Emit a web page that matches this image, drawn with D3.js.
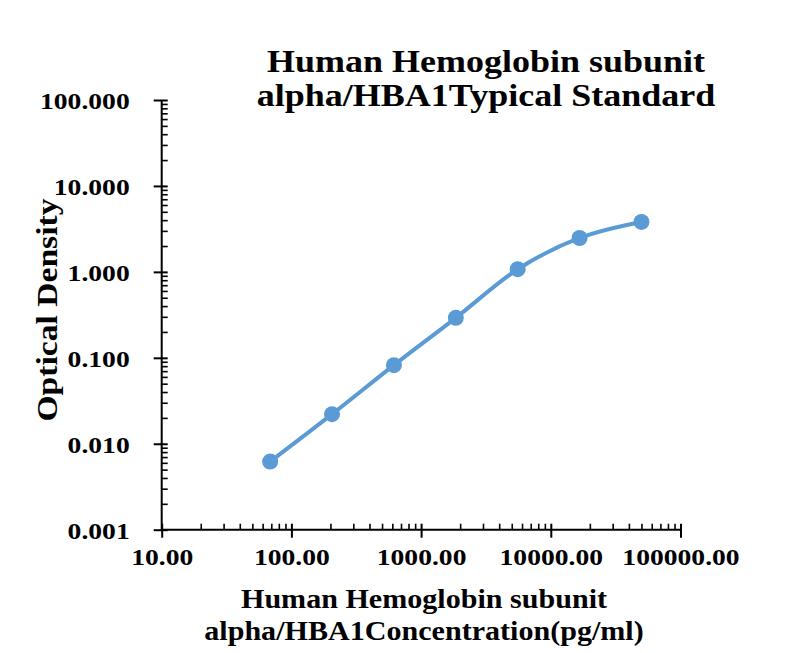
<!DOCTYPE html>
<html><head><meta charset="utf-8">
<script src="https://cdn.jsdelivr.net/npm/d3@7"></script>
<style>body{margin:0;background:#fff}text{font-family:"Liberation Serif","Times New Roman",serif;font-weight:bold;fill:#000}</style>
</head><body>
<svg id="c" width="800" height="653"></svg>
<script>
const concentrations = [68.59, 205.76, 617.28, 1851.85, 5555.56, 16666.67, 50000];
const odValues = [0.0062, 0.0221, 0.0822, 0.292, 1.074, 2.48, 3.81];
const xTickValues = [10, 100, 1000, 10000, 100000];
const xTickLabels = ["10.00", "100.00", "1000.00", "10000.00", "100000.00"];
const yTickValues = [0.001, 0.01, 0.1, 1, 10, 100];
const yTickLabels = ["0.001", "0.010", "0.100", "1.000", "10.000", "100.000"];
const titleLines = ["Human Hemoglobin subunit", "alpha/HBA1Typical Standard"];
const xTitleLines = ["Human Hemoglobin subunit", "alpha/HBA1Concentration(pg/ml)"];
const yTitle = "Optical Density";

const svg = d3.select("#c");
const x = d3.scaleLog().domain([10, 100000]).range([161.7, 680.5]);
const y = d3.scaleLog().domain([0.001, 100]).range([529.7, 100]);

function minors(vals) {
  const out = [];
  for (let i = 0; i < vals.length - 1; i++) for (let k = 2; k <= 9; k++) out.push(vals[i] * k);
  return out;
}

// X axis
const gx = svg.append("g").attr("transform", `translate(0,${y(0.001)})`);
gx.call(d3.axisBottom(x).tickValues(xTickValues).tickSize(8).tickFormat((d, i) => xTickLabels[i]));
gx.selectAll(".tick line").attr("y1", -6).attr("stroke-width", 2);
gx.selectAll(".tick text").attr("y", 0).attr("dy", 0).attr("transform", "translate(0,35) scale(1.15,1)").style("font-size", "24px");
gx.select(".domain").attr("stroke-width", 2).attr("d", `M${x(10)},0H${x(100000)}`);
const gxm = svg.append("g").attr("transform", `translate(0,${y(0.001)})`);
gxm.call(d3.axisTop(x).tickValues(minors(xTickValues)).tickSize(6).tickFormat(""));
gxm.select(".domain").remove();
gxm.selectAll(".tick line").attr("stroke-width", 1.6);

// Y axis
const gy = svg.append("g").attr("transform", `translate(${x(10)},0)`);
gy.call(d3.axisLeft(y).tickValues(yTickValues).tickSize(8).tickFormat((d, i) => yTickLabels[i]));
gy.selectAll(".tick line").attr("x1", 6).attr("stroke-width", 2);
gy.selectAll(".tick text").attr("x", 0).attr("dy", "0.35em").attr("transform", "translate(-32,0) scale(1.15,1)").style("font-size", "24px");
gy.select(".domain").attr("stroke-width", 2).attr("d", `M0,${y(0.001)}V${y(100)}`);
const gym = svg.append("g").attr("transform", `translate(${x(10)},0)`);
gym.call(d3.axisRight(y).tickValues(minors(yTickValues)).tickSize(6).tickFormat(""));
gym.select(".domain").remove();
gym.selectAll(".tick line").attr("stroke-width", 1.6);
svg.selectAll(".tick text").attr("font-family", null);

// Line + points
const pts = concentrations.map((c, i) => [x(c), y(odValues[i])]);
svg.append("path").attr("d", d3.line().curve(d3.curveCardinal.tension(0))(pts))
  .attr("fill", "none").attr("stroke", "#5B9BD5").attr("stroke-width", 4);
svg.selectAll("circle.pt").data(pts).join("circle").attr("class", "pt")
  .attr("cx", d => d[0]).attr("cy", d => d[1]).attr("r", 8).attr("fill", "#5B9BD5");

// Titles (one text per line)
svg.selectAll("text.title").data(titleLines).join("text").attr("class", "title")
  .attr("transform", (d, i) => `translate(486,${71.5 + i * 34}) scale(1.125,1)`)
  .attr("text-anchor", "middle").style("font-size", "32px").text(d => d);
svg.selectAll("text.xtitle").data(xTitleLines).join("text").attr("class", "xtitle")
  .attr("transform", (d, i) => `translate(424,${608 + i * 32}) scale(1.075,1)`)
  .attr("text-anchor", "middle").style("font-size", "28px").text(d => d);
svg.append("text").attr("transform", "translate(57,310) rotate(-90) scale(1.12,1)").attr("text-anchor", "middle")
  .style("font-size", "30px").text(yTitle);
</script>
</body></html>
